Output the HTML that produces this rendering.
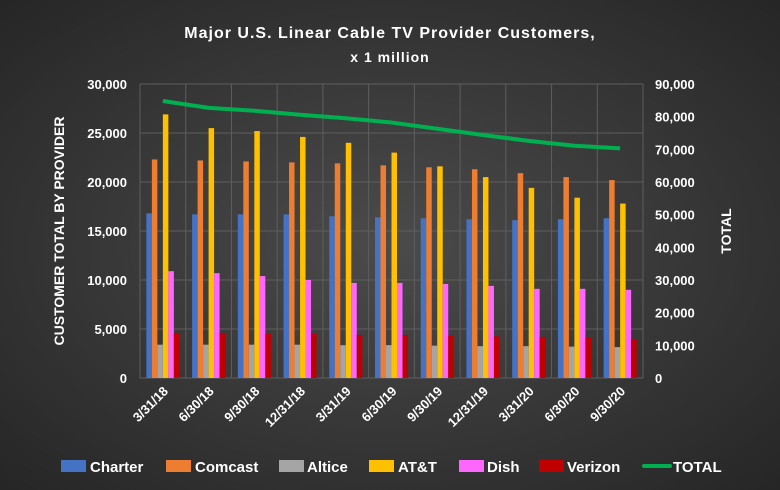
<!DOCTYPE html>
<html><head><meta charset="utf-8"><style>
body{margin:0;background:#333}
svg{display:block;font-family:"Liberation Sans",sans-serif}
</style></head><body>
<svg id="c" width="780" height="490" viewBox="0 0 780 490">
<defs><radialGradient id="bg" cx="50%" cy="50%" r="70%"><stop offset="0" stop-color="#4b4b4b"/><stop offset="1" stop-color="#262626"/></radialGradient></defs>
<rect width="780" height="490" fill="url(#bg)"/>
<text x="390" y="38" text-anchor="middle" fill="#fff" font-size="16" font-weight="bold" letter-spacing="1">Major U.S. Linear Cable TV Provider Customers,</text>
<text x="390" y="62" text-anchor="middle" fill="#fff" font-size="14" font-weight="bold" letter-spacing="1">x 1 million</text>
<g id="grid"></g><g id="bars"></g><g id="axes"></g>
<text transform="translate(64,231) rotate(-90)" text-anchor="middle" fill="#fff" font-size="14" font-weight="bold">CUSTOMER TOTAL BY PROVIDER</text>
<text transform="translate(731,231) rotate(-90)" text-anchor="middle" fill="#fff" font-size="14" font-weight="bold">TOTAL</text>
<g id="legend"></g>
</svg>
<script>
const categories=["3/31/18","6/30/18","9/30/18","12/31/18","3/31/19","6/30/19","9/30/19","12/31/19","3/31/20","6/30/20","9/30/20"];
const seriesNames=["Charter","Comcast","Altice","AT&T","Dish","Verizon"];
const charter=[16800,16700,16700,16700,16500,16400,16300,16200,16100,16200,16300];
const comcast=[22300,22200,22100,22000,21900,21700,21500,21300,20900,20500,20200];
const altice=[3400,3400,3400,3400,3350,3350,3300,3250,3250,3200,3150];
const att=[26900,25500,25200,24600,24000,23000,21600,20500,19400,18400,17800];
const dish=[10900,10700,10400,10000,9700,9700,9600,9400,9100,9100,9000];
const verizon=[4600,4600,4500,4500,4400,4400,4300,4250,4200,4100,4000];
const total=[84800,82700,81800,80600,79500,78200,76300,74400,72600,71100,70300];
const leftTicks=[0,5000,10000,15000,20000,25000,30000];
const rightTicks=[0,10000,20000,30000,40000,50000,60000,70000,80000,90000];
const colors=["#4472c4","#ed7d31","#a5a5a5","#ffc000","#ff66ff","#c00000"];
const NS="http://www.w3.org/2000/svg";
const L=140,R=643,T=84,B=378;
const bw=(R-L)/categories.length;
const y=v=>B-v/30000*(B-T);
const y2=v=>B-v/90000*(B-T);
const xc=i=>L+bw*(i+0.5);
function mk(tag,a,p){const e=document.createElementNS(NS,tag);for(const k in a)e.setAttribute(k,a[k]);document.getElementById(p).appendChild(e);return e;}
const fmt=v=>v.toLocaleString("en-US");
for(let i=0;i<=categories.length;i++){const g=mk("line",{x1:L+bw*i,x2:L+bw*i,y1:T,y2:B,stroke:"#5e5e5e"},"grid");

}
leftTicks.forEach(t=>{const g=mk("line",{x1:L,x2:R,y1:y(t),y2:y(t),stroke:"#5e5e5e"},"grid");


const tx=mk("text",{x:127,y:y(t)+5,"text-anchor":"end",fill:"#fff","font-size":"13","font-weight":"bold"},"axes");tx.textContent=fmt(t);

});
rightTicks.forEach(t=>{const tx=mk("text",{x:655,y:y2(t)+5,fill:"#fff","font-size":"13","font-weight":"bold"},"axes");tx.textContent=fmt(t);

});
const data=[charter,comcast,altice,att,dish,verizon];
const barW=5.5;
categories.forEach((c,i)=>{
 data.forEach((s,j)=>{const x=xc(i)-3*barW+j*barW;
  const r=mk("rect",{x:x,y:y(s[i]),width:barW,height:B-y(s[i]),fill:colors[j]},"bars");
  
  });
 const tx=mk("text",{transform:`translate(${xc(i)+6},${392}) rotate(-45)`,"text-anchor":"end",fill:"#fff","font-size":"13","font-weight":"bold"},"axes");tx.textContent=c;
 
 
});
const pl=mk("polyline",{points:total.map((v,i)=>xc(i)+","+y2(v)).join(" "),fill:"none",stroke:"#00b050","stroke-width":"4","stroke-linejoin":"round"},"bars");


const lx=[61,166,279,369,459,539,644];
const tx0=[90,195,307,398,487,567,673];
const lnames=[...seriesNames,"TOTAL"];
lnames.forEach((n,k)=>{
 let m;
 if(k<6){m=mk("rect",{x:lx[k],y:460,width:25,height:12,fill:colors[k]},"legend");}
 else{m=mk("line",{x1:lx[k],x2:lx[k]+26,y1:466,y2:466,stroke:"#00b050","stroke-width":"4","stroke-linecap":"round"},"legend");}
 
 
 const t=mk("text",{x:tx0[k],y:472,fill:"#fff","font-size":"15","font-weight":"bold"},"legend");t.textContent=n;
 
 
});
</script>
</body></html>
